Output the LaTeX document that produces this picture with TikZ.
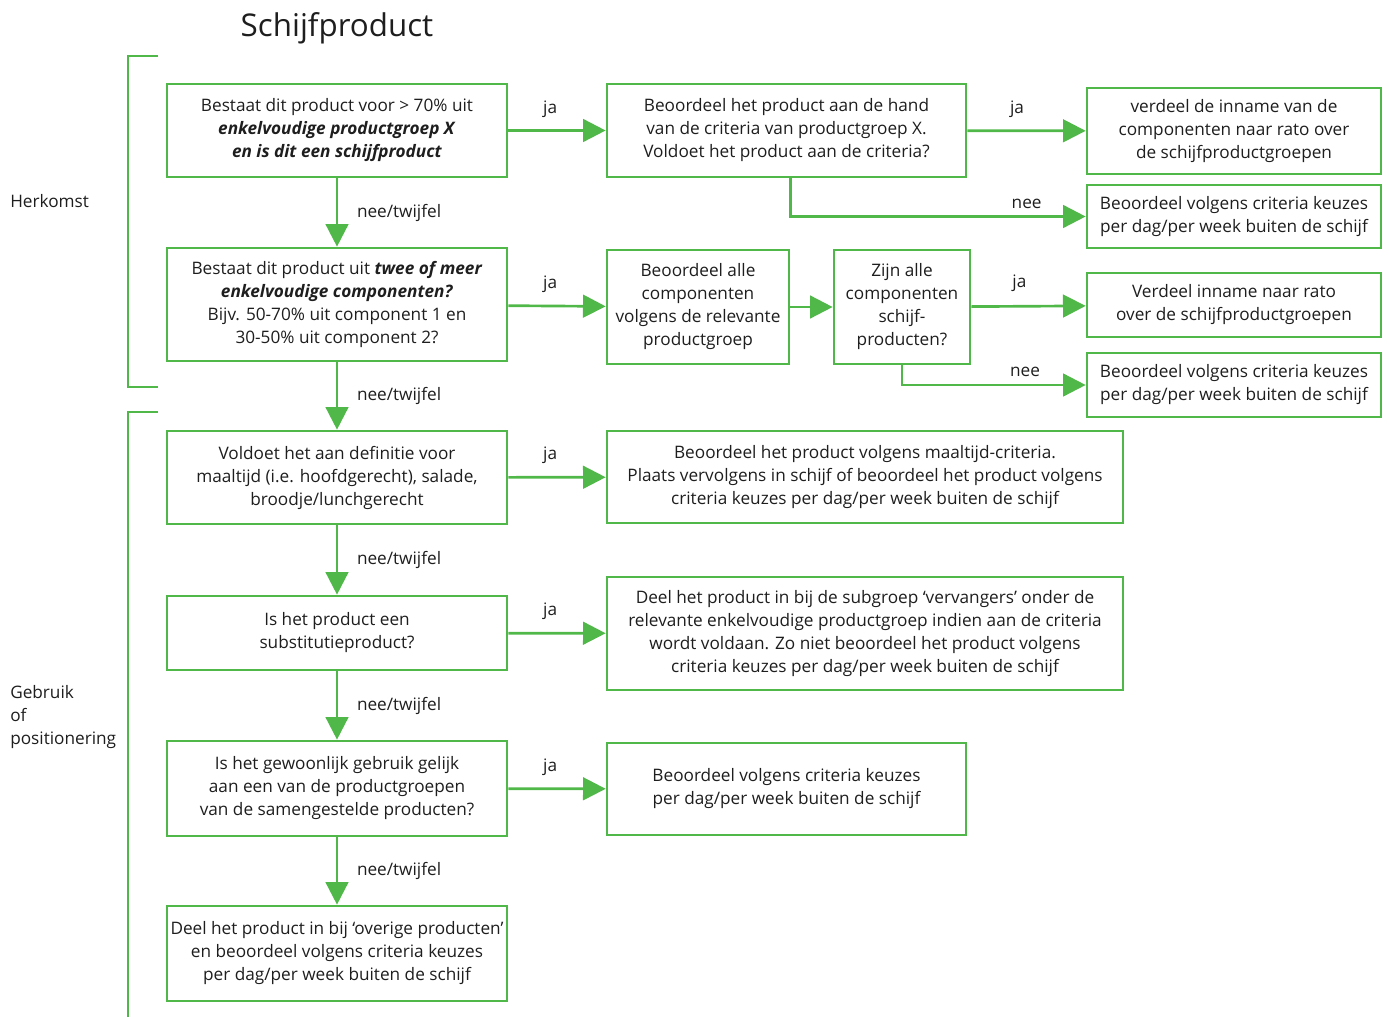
\documentclass[tikz,border=0pt]{standalone}
\usepackage{fontspec}
\setmainfont{Open Sans}
\usetikzlibrary{arrows.meta}
\definecolor{schijfgroen}{RGB}{80,184,72}
\definecolor{tekstgrijs}{RGB}{30,30,30}
\newcommand{\bi}[1]{\textbf{\textit{#1}}}

\begin{document}
\begin{tikzpicture}[x=0.75pt,y=-0.75pt,
  box/.style={draw=schijfgroen, line width=2pt, align=center, inner sep=1pt,
    font=\fontsize{12.9}{17.25}\selectfont, text=tekstgrijs},
  arr/.style={draw=schijfgroen, line width=2pt, -{Triangle[length=17pt,width=17pt]}},
  lbl/.style={font=\fontsize{12.9}{17.25}\selectfont, text=tekstgrijs, inner sep=0pt},
  haak/.style={draw=schijfgroen, line width=1.6pt}]
		%%%%% START %%%%%
		\useasboundingbox (0,0) rectangle (1389,1017);

		\node[font=\fontsize{23.5}{28}\selectfont, text=tekstgrijs] (titel) at (337,28) {Schijfproduct};

		% haken links
		\draw[haak] (158,56) -- (128,56) -- (128,387) -- (158,387);
		\draw[haak] (158,412) -- (128,412) -- (128,1017);
		\node[lbl, anchor=west] (herkomst) at (10,201) {Herkomst};
		\node[lbl, anchor=west, align=left] (gebruik) at (10,717) {Gebruik\\of\\positionering};

		% linker kolom
		\node[box, minimum width=255pt, minimum height=69.75pt] (v1) at (337,130.5)
			{Bestaat dit product voor > 70\% uit\\\bi{enkelvoudige productgroep X}\\\bi{en is dit een schijfproduct}};
		\node[box, minimum width=255pt, minimum height=84.75pt] (v2) at (337,304.5)
			{Bestaat dit product uit \bi{twee of meer}\\\bi{enkelvoudige componenten?}\\Bijv. 50-70\% uit component 1 en\\30-50\% uit component 2?};
		\node[box, minimum width=255pt, minimum height=69.75pt] (v3) at (337,477.5)
			{Voldoet het aan definitie voor\\maaltijd (i.e. hoofdgerecht), salade,\\broodje/lunchgerecht};
		\node[box, minimum width=255pt, minimum height=55.5pt] (v4) at (337,633)
			{Is het product een\\substitutieproduct?};
		\node[box, minimum width=255pt, minimum height=71.25pt] (v5) at (337,788.5)
			{Is het gewoonlijk gebruik gelijk\\aan een van de productgroepen\\van de samengestelde producten?};
		\node[box, minimum width=255pt, minimum height=71.25pt] (v6) at (337,953.5)
			{Deel het product in bij ‘overige producten’\\en beoordeel volgens criteria keuzes\\per dag/per week buiten de schijf};

		% rechter kolommen
		\node[box, minimum width=269.25pt, minimum height=69.75pt] (r1) at (786.5,130.5)
			{Beoordeel het product aan de hand\\van de criteria van productgroep X.\\Voldoet het product aan de criteria?};
		\node[box, minimum width=220.5pt, minimum height=64.5pt] (r1ja) at (1234,131)
			{verdeel de inname van de\\componenten naar rato over\\de schijfproductgroepen};
		\node[box, minimum width=220.5pt, minimum height=47.25pt] (r1nee) at (1234,216.5)
			{Beoordeel volgens criteria keuzes\\per dag/per week buiten de schijf};
		\node[box, minimum width=136.5pt, minimum height=85.5pt] (k1) at (698,307)
			{Beoordeel alle\\componenten\\volgens de relevante\\productgroep};
		\node[box, minimum width=102pt, minimum height=85.5pt] (k2) at (902,307)
			{Zijn alle\\componenten\\schijf-\\producten?};
		\node[box, minimum width=220.5pt, minimum height=48pt] (k2ja) at (1234,305)
			{Verdeel inname naar rato\\over de schijfproductgroepen};
		\node[box, minimum width=220.5pt, minimum height=48pt] (k2nee) at (1234,385)
			{Beoordeel volgens criteria keuzes\\per dag/per week buiten de schijf};
		\node[box, minimum width=387pt, minimum height=69pt] (m1) at (865,477)
			{Beoordeel het product volgens maaltijd-criteria.\\Plaats vervolgens in schijf of beoordeel het product volgens\\criteria keuzes per dag/per week buiten de schijf};
		\node[box, minimum width=387pt, minimum height=84.75pt] (m2) at (865,633.5)
			{Deel het product in bij de subgroep ‘vervangers’ onder de\\relevante enkelvoudige productgroep indien aan de criteria\\wordt voldaan. Zo niet beoordeel het product volgens\\criteria keuzes per dag/per week buiten de schijf};
		\node[box, minimum width=269.25pt, minimum height=69pt] (m3) at (786.5,789)
			{Beoordeel volgens criteria keuzes\\per dag/per week buiten de schijf};

		% pijlen ja
		\draw[arr] (v1) -- node[lbl, above=9pt, pos=0.43] {ja} (r1);
		\draw[arr] (r1) -- node[lbl, above=9pt, pos=0.42] {ja} (r1ja);
		\draw[arr] ([xshift=3pt]r1.south) |- node[lbl, above=5pt, pos=0.9] {nee} (r1nee);
		\draw[arr] (v2) -- node[lbl, above=9pt, pos=0.43] {ja} (k1);
		\draw[arr] (k1) -- (k2);
		\draw[arr] (k2) -- node[lbl, above=10pt, pos=0.42] {ja} (k2ja);
		\draw[arr] (k2.south) |- node[lbl, above=5pt, pos=0.835] {nee} (k2nee);
		\draw[arr] (v3) -- node[lbl, above=9pt, pos=0.43] {ja} (m1);
		\draw[arr] (v4) -- node[lbl, above=9pt, pos=0.43] {ja} (m2);
		\draw[arr] (v5) -- node[lbl, above=9pt, pos=0.43] {ja} (m3);

		% pijlen nee/twijfel
		\foreach \a/\b in {v1/v2, v2/v3, v3/v4, v4/v5, v5/v6}
			\draw[arr] (\a) -- node[lbl, right=14pt, midway] {nee/twijfel} (\b);
		%%%%% END %%%%%
\end{tikzpicture}
\end{document}
